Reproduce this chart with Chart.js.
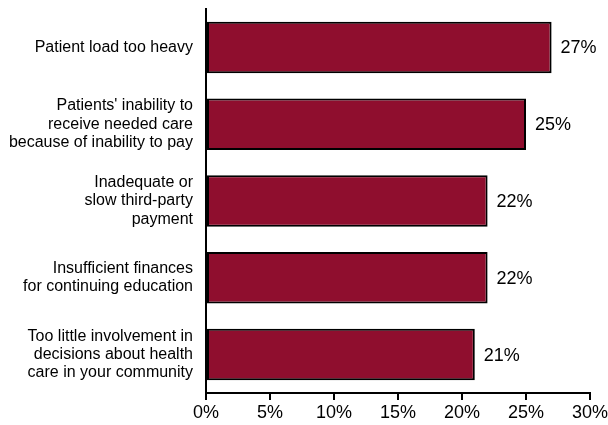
<!DOCTYPE html>
<html>
<head>
<meta charset="utf-8">
<script src="https://cdn.jsdelivr.net/npm/chart.js@4/dist/chart.umd.min.js"></script>
<style>
html,body{margin:0;padding:0;background:#fff;}
#wrap{width:608px;height:425px;position:relative;}
</style>
</head>
<body>
<div id="wrap"><canvas id="c" width="608" height="425"></canvas></div>
<script>
const categories = [
  ["Patient load too heavy"],
  ["Patients' inability to", "receive needed care", "because of inability to pay"],
  ["Inadequate or", "slow third-party", "payment"],
  ["Insufficient finances", "for continuing education"],
  ["Too little involvement in", "decisions about health", "care in your community"]
];
const values = [27, 25, 22, 22, 21];
const xTicks = [0, 5, 10, 15, 20, 25, 30];

const FONT = '"Liberation Sans", Arial, sans-serif';

const valueLabels = {
  id: 'valueLabels',
  afterDatasetsDraw(chart) {
    const ctx = chart.ctx;
    const meta = chart.getDatasetMeta(0);
    ctx.save();
    ctx.font = '18px ' + FONT;
    ctx.fillStyle = '#000';
    ctx.textAlign = 'left';
    ctx.textBaseline = 'middle';
    meta.data.forEach((bar, i) => {
      ctx.fillText(values[i] + '%', bar.x + 9, bar.y + 1);
    });
    ctx.restore();
  }
};

new Chart(document.getElementById('c'), {
  type: 'bar',
  data: {
    labels: categories,
    datasets: [{
      data: values,
      backgroundColor: '#8F0E2E',
      borderColor: '#000',
      borderWidth: 2,
      borderSkipped: false,
      categoryPercentage: 1,
      barPercentage: 0.67
    }]
  },
  options: {
    indexAxis: 'y',
    responsive: false,
    animation: false,
    layout: { padding: { left: 0, right: 18, top: 9, bottom: 0 } },
    plugins: { legend: { display: false }, tooltip: { enabled: false } },
    scales: {
      x: {
        min: 0, max: 30,
        afterBuildTicks(scale) { scale.ticks = xTicks.map(v => ({ value: v })); },
        afterFit(scale) { scale.height = 32; scale.paddingLeft = 0; scale.paddingRight = 0; },
        grid: { drawOnChartArea: false, tickLength: 7, tickColor: '#000', lineWidth: 2 },
        border: { display: true, color: '#000', width: 2 },
        ticks: {
          color: '#000',
          padding: 2,
          maxRotation: 0,
          font: { family: FONT, size: 18 },
          callback: v => v + '%'
        }
      },
      y: {
        afterFit(scale) { scale.width = 206; scale.paddingTop = 0; scale.paddingBottom = 0; },
        grid: { display: false, drawTicks: false },
        border: { display: true, color: '#000', width: 2 },
        ticks: {
          color: '#000',
          padding: 13,
          font: { family: FONT, size: 16, lineHeight: 1.15 }
        }
      }
    }
  },
  plugins: [valueLabels]
});
</script>
</body>
</html>
